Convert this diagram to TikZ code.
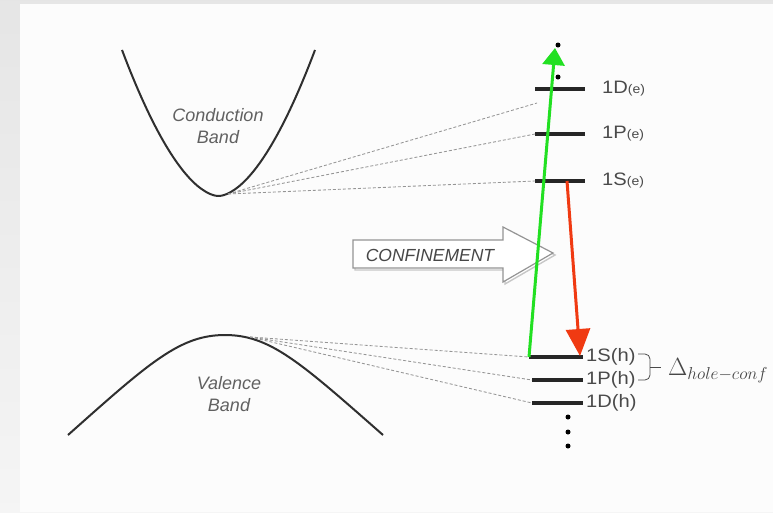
\documentclass[tikz,border=0pt]{standalone}
\usepackage[no-math]{fontspec}
\newfontfamily\labelfont{Liberation Sans}
\newfontfamily\levelfont[FakeStretch=1.12]{Liberation Sans}
\usetikzlibrary{arrows.meta}
\definecolor{bandcol}{HTML}{2F2F2F}
\definecolor{guidecol}{HTML}{959595}
\definecolor{textcol}{HTML}{4A4A4A}
\definecolor{absorb}{HTML}{22E022}
\definecolor{emit}{HTML}{F03A12}
\tikzset{
  band/.style={draw=bandcol, line width=2pt},
  guide/.style={draw=guidecol, line width=0.85pt, dash pattern=on 3pt off 2pt},
  level/.style={draw=black!85, line width=3.2pt},
  lvllabel/.style={font=\levelfont\fontsize{18}{20}\selectfont, text=textcol, inner sep=0pt, anchor=west},
  bandlabel/.style={font=\labelfont\itshape\fontsize{18}{22}\selectfont, text=black!62, align=center, inner sep=0pt},
  dotmark/.style={fill=black, circle, inner sep=0pt, minimum size=5pt},
}
\newcommand{\eindex}[1]{{\fontsize{12.5}{12}\selectfont(#1)}}
\begin{document}
\begin{tikzpicture}[x=1pt, y=-1pt]
\useasboundingbox (0,0) rectangle (773,512);
% page frame
\shade[top color=black!10, bottom color=black!4] (0,0) rectangle (773,512);
\fill[white!99!black] (20,4) rectangle (773,512);

% conduction and valence bands
\draw[band] plot[domain=-96.5:96.5, samples=90, smooth]
  ({218.5+\x}, {196 - 146*pow(abs(\x)/96.5+0.0001,1.75)});
\draw[band] (68,435) .. controls (150,362) and (180,335) .. (225,335)
                     .. controls (270,335) and (300,362) .. (383,435);
\node[bandlabel] (cbtext) at (218,126) {Conduction\\Band};
\node[bandlabel] (vbtext) at (229,394) {Valence\\Band};

% electron levels
\coordinate (e1Dl) at (535,89);  \coordinate (e1Dr) at (585,89);
\coordinate (e1Pl) at (535,134); \coordinate (e1Pr) at (585,134);
\coordinate (e1Sl) at (535,181); \coordinate (e1Sr) at (585,181);
\draw[level] (e1Dl) -- (e1Dr);
\draw[level] (e1Pl) -- (e1Pr);
\draw[level] (e1Sl) -- (e1Sr);
\node[lvllabel] (le1D) at (602,89)  {1D\eindex{e}};
\node[lvllabel] (le1P) at (602,134) {1P\eindex{e}};
\node[lvllabel] (le1S) at (602,181) {1S\eindex{e}};

% hole levels
\coordinate (h1Sl) at (529,357); \coordinate (h1Sr) at (583,357);
\coordinate (h1Pl) at (532,380); \coordinate (h1Pr) at (583,380);
\coordinate (h1Dl) at (532,403); \coordinate (h1Dr) at (583,403);
\draw[level] (h1Sl) -- (h1Sr);
\draw[level] (h1Pl) -- (h1Pr);
\draw[level] (h1Dl) -- (h1Dr);
\node[lvllabel] (lh1S) at (586,357) {1S(h)};
\node[lvllabel] (lh1P) at (586,380) {1P(h)};
\node[lvllabel] (lh1D) at (586,403) {1D(h)};

% continuation dots
\node[dotmark] (ctop1) at (558,45) {};
\node[dotmark] (ctop2) at (558,77) {};
\node[dotmark] (cbot1) at (568,417) {};
\node[dotmark] (cbot2) at (568,432) {};
\node[dotmark] (cbot3) at (568,446) {};

% guides from band edges to the confined levels
\coordinate (cbmin) at (228,194);
\coordinate (e1Dend) at (537,103);
\draw[guide] (cbmin) -- (e1Dend);
\draw[guide] (cbmin) -- (e1Pl);
\draw[guide] (cbmin) -- (e1Sl);
\coordinate (vbtop) at (250,337);
\draw[guide] (vbtop) -- (h1Sl);
\draw[guide] (vbtop) -- (h1Pl);
\draw[guide] (vbtop) -- (h1Dl);

% confinement block arrow
\draw[draw=black!22, line width=1.4pt, fill=white]
  (355,242) -- (505,242) -- (505,229) -- (555,255) -- (505,284) -- (505,270) -- (355,270) -- cycle;
\draw[draw=black!42, line width=1.2pt, fill=white]
  (353,240) -- (503,240) -- (503,227) -- (553,253) -- (503,282) -- (503,268) -- (353,268) -- cycle;
\node[font=\labelfont\itshape\fontsize{17.5}{20}\selectfont, text=black!72, inner sep=0pt] (conf) at (430,255) {CONFINEMENT};

% transitions
\coordinate (absend) at (555,48);
\draw[absorb, line width=3pt, -{Triangle[width=22pt,length=17pt]}] (h1Sl) -- (absend);
\coordinate (emstart) at (567,181);
\coordinate (emend) at (580,356);
\draw[emit, line width=3pt, -{Triangle[width=24pt,length=27pt]}] (emstart) -- (emend);

% hole confinement bracket
\coordinate (brtop) at (638,354);
\coordinate (brbot) at (638,380);
\draw[draw=textcol, line width=0.8pt, rounded corners=5pt] (brtop) -| (650,367) |- (brbot);
\draw[draw=textcol, line width=0.8pt] (650,367) -- (661,367);
\node[anchor=west, inner sep=0pt, text=black!72, font=\fontsize{23}{27}\selectfont] (delta) at (668,371) {$\Delta_{hole-conf}$};
\end{tikzpicture}
\end{document}
